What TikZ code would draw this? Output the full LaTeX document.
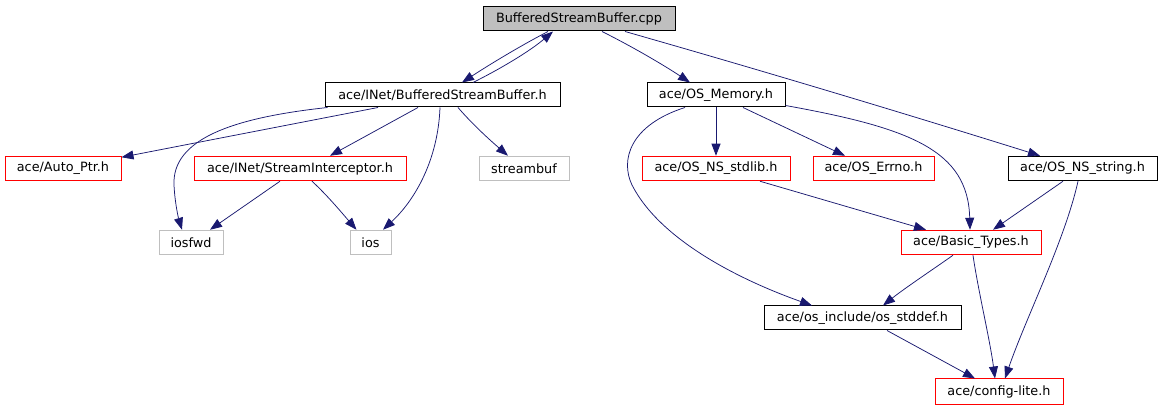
\documentclass[tikz,border=0pt]{standalone}
\usepackage{fontspec}
\setmainfont{DejaVu Sans}
\usetikzlibrary{arrows.meta}
\definecolor{edgec}{HTML}{191970}
\definecolor{grayc}{HTML}{BFBFBF}
\begin{document}
\begin{tikzpicture}[x=1pt,y=-1pt,
  box/.style={draw=black,line width=1pt,inner sep=0pt,minimum height=24.5pt,
    font=\fontsize{12.8}{14}\selectfont,anchor=center},
  redbox/.style={box,draw=red},
  graybox/.style={box,draw=grayc},
  edge/.style={draw=edgec,line width=0.75pt,-{Triangle[length=12pt,width=9pt]}}]
\useasboundingbox (0,0) rectangle (1163,411);
% nodes
\node[box,fill=grayc,minimum width=192pt,minimum height=24pt] (cpp) at (579,19) {BufferedStreamBuffer.cpp};
\node[box,minimum width=235pt,minimum height=24pt] (bsb) at (442.5,95) {ace/INet/BufferedStreamBuffer.h};
\node[box,minimum width=138pt,minimum height=24pt] (mem) at (716,95) {ace/OS\_Memory.h};
\node[redbox,minimum width=116pt] (auto) at (63,168.5) {ace/Auto\_Ptr.h};
\node[redbox,minimum width=212pt] (si) at (300,168.5) {ace/INet/StreamInterceptor.h};
\node[graybox,minimum width=90pt] (sbuf) at (524,168.5) {streambuf};
\node[graybox,minimum width=64pt] (iosfwd) at (191,242.5) {iosfwd};
\node[graybox,minimum width=41pt] (ios) at (370.5,242.5) {ios};
\node[redbox,minimum width=148pt] (stdlib) at (716,168.5) {ace/OS\_NS\_stdlib.h};
\node[redbox,minimum width=121pt] (errno) at (873.5,168.5) {ace/OS\_Errno.h};
\node[box,minimum width=149pt] (string) at (1082.5,168.5) {ace/OS\_NS\_string.h};
\node[redbox,minimum width=140pt] (basic) at (971,242.5) {ace/Basic\_Types.h};
\node[box,minimum width=197pt,minimum height=24pt] (stddef) at (862.5,318) {ace/os\_include/os\_stddef.h};
\node[redbox,minimum width=128pt,minimum height=26pt] (config) at (999,392) {ace/config-lite.h};
% edges
\draw[edge] ([xshift=-31pt]cpp.south) .. controls (522,45) and (492,63) .. ([xshift=19.5pt]bsb.north);
\draw[edge] ([xshift=30.5pt]bsb.north) .. controls (502,68) and (530,51) .. ([xshift=-26pt]cpp.south);
\draw[edge] ([xshift=23pt]cpp.south) .. controls (631,46) and (662,64) .. ([xshift=-26pt]mem.north);
\draw[edge] ([xshift=46pt]cpp.south) .. controls (760,70) and (900,112) .. ([xshift=-42.5pt]string.north);
\draw[edge] ([xshift=-64.5pt]bsb.south) -- ([yshift=-1.5pt]auto.north east);
\draw[edge] ([xshift=-115pt]bsb.south) .. controls (230,118) and (172,140) .. (174,185)
  .. controls (175,205) and (179,220) .. ([xshift=-9pt]iosfwd.north);
\draw[edge] ([xshift=-24.5pt]bsb.south) -- ([xshift=30pt]si.north);
\draw[edge] ([xshift=-2.5pt]bsb.south) .. controls (438,160) and (415,200) .. ([xshift=12.5pt]ios.north);
\draw[edge] ([xshift=15.5pt]bsb.south) .. controls (473,125) and (491,141) .. ([xshift=-16pt]sbuf.north);
\draw[edge] ([xshift=-20pt]si.south) -- ([xshift=19pt]iosfwd.north);
\draw[edge] ([xshift=12pt]si.south) .. controls (327,195) and (342,213) .. ([xshift=-14pt]ios.north);
\draw[edge] ([xshift=-31pt]mem.south) .. controls (630,125) and (620,160) .. (632,185)
  .. controls (660,240) and (740,280) .. ([xshift=-50.5pt]stddef.north);
\draw[edge] (mem.south) -- (stdlib.north);
\draw[edge] ([xshift=27pt]mem.south) -- ([xshift=-28.5pt]errno.north);
\draw[edge] ([yshift=2pt]mem.south east) .. controls (910,128) and (968,150) .. ([xshift=-1pt]basic.north);
\draw[edge] ([xshift=44pt]stdlib.south) -- ([xshift=-45pt]basic.north);
\draw[edge] ([xshift=-19.5pt]string.south) -- ([xshift=22pt]basic.north);
\draw[edge] ([xshift=-4.5pt]string.south) .. controls (1065,240) and (1025,320) .. ([xshift=6pt]config.north);
\draw[edge] ([xshift=-18pt]basic.south) .. controls (935,268) and (905,288) .. ([xshift=20.5pt]stddef.north);
\draw[edge] ([xshift=2pt]basic.south) .. controls (978,290) and (990,340) .. ([xshift=-4pt]config.north);
\draw[edge] ([xshift=24.5pt]stddef.south) -- ([xshift=-24pt]config.north);
\end{tikzpicture}
\end{document}
